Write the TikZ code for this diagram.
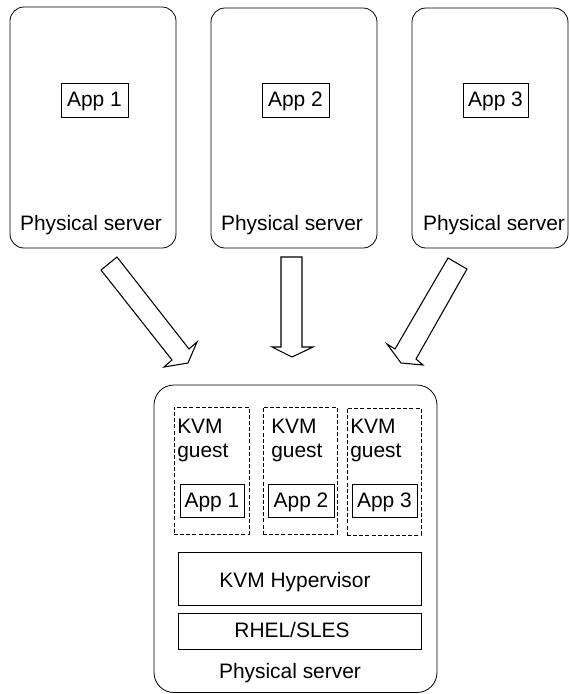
\documentclass[tikz,border=0pt]{standalone}
\usepackage{fontspec}
\setmainfont{Liberation Sans}
\usetikzlibrary{fit}
\begin{document}
\begin{tikzpicture}[x=0.75pt,y=-0.75pt,
  box/.style={draw, line width=0.6pt, inner sep=0pt},
  srv/.style={box, rounded corners=10.5pt},
  bsrv/.style={box, rounded corners=15pt},
  guestbox/.style={draw, line width=0.6pt, dash pattern=on 3pt off 1.6pt, inner sep=0pt},
  lbl/.style={font=\fontsize{15.7}{18}\selectfont, inner sep=0pt},
  blockarrow/.style={draw, line width=0.8pt, fill=white, line join=miter}
]
\useasboundingbox (0,0) rectangle (570,694);

% top physical servers
\node[srv, fit={(10,7)(176,248)}] (s1) {};
\node[srv, fit={(211,8)(377,248)}] (s2) {};
\node[srv, fit={(412,8)(568,248)}] (s3) {};
\node[box, fit={(61,83)(128,117)}] (a1) {};
\node[box, fit={(262,83)(329,117)}] (a2) {};
\node[box, fit={(463,83)(528,117)}] (a3) {};
\node[lbl, anchor=base] (a1t) at (94.5,106) {App 1};
\node[lbl, anchor=base] (a2t) at (295.5,106) {App 2};
\node[lbl, anchor=base] (a3t) at (495.5,106) {App 3};
\node[lbl, anchor=base] (s1t) at (91,230) {Physical server};
\node[lbl, anchor=base] (s2t) at (292,230) {Physical server};
\node[lbl, anchor=base] (s3t) at (494,230) {Physical server};

% block arrows
\draw[blockarrow] (101,270) -- (117,257) -- (189,349) -- (197,342) -- (188,363) -- (164,367) -- (172,360) -- cycle;
\draw[blockarrow] (281,257) -- (302,257) -- (302,347) -- (313,347) -- (292,357) -- (272,347) -- (281,347) -- cycle;
\draw[blockarrow] (448,258) -- (467,269) -- (416,359) -- (423,365) -- (401,363) -- (387,344) -- (395,349) -- cycle;

% bottom physical server
\node[bsrv, fit={(154,385)(437,692.5)}] (bs) {};
\node[guestbox, fit={(174,407)(249,534)}] (g1) {};
\node[guestbox, fit={(263,407)(337,534)}] (g2) {};
\node[guestbox, fit={(347,408)(421,535)}] (g3) {};
\node[lbl, anchor=base west] (g1k) at (177,433) {KVM};
\node[lbl, anchor=base west] (g1g) at (177,457) {guest};
\node[lbl, anchor=base west] (g2k) at (271,433) {KVM};
\node[lbl, anchor=base west] (g2g) at (271,457) {guest};
\node[lbl, anchor=base west] (g3k) at (350,433) {KVM};
\node[lbl, anchor=base west] (g3g) at (350,457) {guest};
\node[box, fit={(180,484)(244,517)}] (ga1) {};
\node[box, fit={(268,484)(334,517)}] (ga2) {};
\node[box, fit={(352,484)(417,517)}] (ga3) {};
\node[lbl, anchor=base] (ga1t) at (212,507) {App 1};
\node[lbl, anchor=base] (ga2t) at (301,507) {App 2};
\node[lbl, anchor=base] (ga3t) at (384.5,507) {App 3};
\node[box, fit={(178,552)(421,605)}] (hv) {};
\node[lbl, anchor=base] (hvt) at (295,587) {KVM Hypervisor};
\node[box, fit={(178,613)(421,649)}] (os) {};
\node[lbl, anchor=base] (ost) at (292,637) {RHEL/SLES};
\node[lbl, anchor=base] (bst) at (290,678) {Physical server};
\end{tikzpicture}
\end{document}
